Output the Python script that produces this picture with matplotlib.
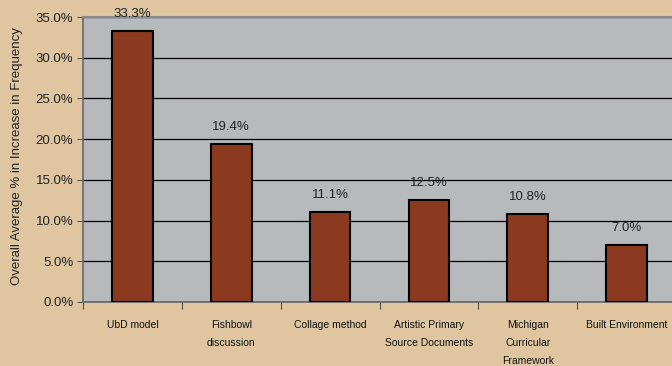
import matplotlib
matplotlib.use("Agg")
import matplotlib.pyplot as plt
import numpy as np

categories = ["UbD model", "Fishbowl\ndiscussion", "Collage method",
              "Artistic Primary\nSource Documents", "Michigan\nCurricular\nFramework",
              "Built Environment"]
values = [33.3, 19.4, 11.1, 12.5, 10.8, 7.0]
y_ticks = [0, 5, 10, 15, 20, 25, 30, 35]

plt.rcParams['font.family'] = ['Liberation Sans', 'DejaVu Sans']

fig = plt.figure(figsize=(6.72, 3.66), dpi=100, facecolor='#DFC6A1')
ax = fig.add_axes([83/672, 64/366, 593/672, 285/366])
ax.set_facecolor('#B6BABD')

x = np.arange(len(categories))
ax.bar(x, values, width=0.41, color='#8C3A1F', edgecolor='black', linewidth=1.5, zorder=3)
for xi, v in zip(x, values):
    ax.annotate(f"{v:.1f}%", (xi, v), xytext=(0, 8), textcoords='offset points',
                ha='center', va='bottom', fontsize=9.5, color='#222222', annotation_clip=False)

ax.set_xlim(-0.5, len(categories) - 0.5)
ax.set_ylim(0, 35)
ax.set_yticks(y_ticks)
ax.set_yticklabels([f"{t:.1f}%" for t in y_ticks], fontsize=9.5, color='#222222')
ax.yaxis.grid(True, color='black', linewidth=0.9, zorder=0)
ax.set_axisbelow(True)

ax.set_xticks(np.arange(len(categories) + 1) - 0.5)
ax.set_xticklabels([])
ax.set_xticks(x, minor=True)
ax.set_xticklabels(categories, minor=True, fontsize=7.5, linespacing=2.0, color='#111111')
ax.tick_params(axis='x', which='major', length=5, color='#555555', direction='out')
ax.tick_params(axis='x', which='minor', length=0, pad=13)
ax.tick_params(axis='y', length=4, color='#555555', direction='out', pad=3)

for s in ['left', 'bottom']:
    ax.spines[s].set_color('#666666')
    ax.spines[s].set_linewidth(1.2)
ax.spines['top'].set_color('#888888')
ax.spines['top'].set_linewidth(1.5)
ax.spines['right'].set_visible(False)

fig.text(17/672, 0.574, "Overall Average % in Increase in Frequency", rotation=90,
         ha='center', va='center', fontsize=9.5, color='#222222')

fig.savefig("out.png", dpi=100, facecolor=fig.get_facecolor())
